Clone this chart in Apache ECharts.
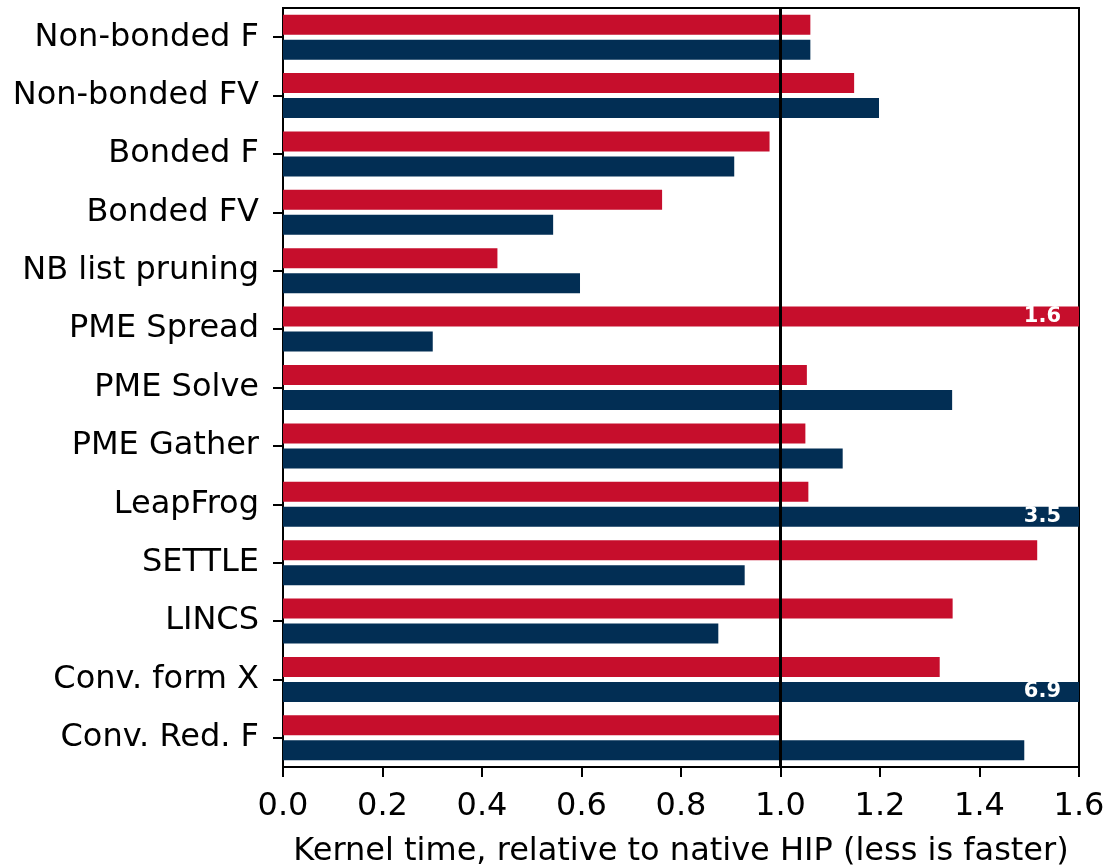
<!DOCTYPE html>
<html>
<head>
<meta charset="utf-8">
<script src="https://cdn.jsdelivr.net/npm/echarts@6/dist/echarts.min.js"></script>
<style>
  html, body { margin: 0; padding: 0; background: #ffffff; }
  #chart { width: 1107px; height: 867px; }
</style>
</head>
<body>
<div id="chart"></div>
<script>
// Kernel names, top to bottom
const kernels = [
  'Non-bonded F', 'Non-bonded FV', 'Bonded F', 'Bonded FV', 'NB list pruning',
  'PME Spread', 'PME Solve', 'PME Gather', 'LeapFrog', 'SETTLE', 'LINCS',
  'Conv. form X', 'Conv. Red. F'
];

// Relative kernel time for each backend (1.0 = native HIP)
const redSeries = [1.06, 1.148, 0.978, 0.762, 0.431, 1.6, 1.053, 1.05, 1.056, 1.516, 1.346, 1.32, 1.0];
const blueSeries = [1.06, 1.198, 0.907, 0.543, 0.597, 0.301, 1.345, 1.125, 3.5, 0.928, 0.875, 6.9, 1.49];

const xTicks = [0.0, 0.2, 0.4, 0.6, 0.8, 1.0, 1.2, 1.4, 1.6];
const xMin = xTicks[0];
const xMax = xTicks[xTicks.length - 1];
const xStep = 0.2;
const referenceLine = 1.0;

const FONT = 'DejaVu Sans';
const FONT_SIZE = 32;

// Bars that run past the axis end get their value written inside
const overflowLabel = {
  show: true,
  position: 'insideRight',
  distance: 18,
  color: '#ffffff',
  fontFamily: FONT,
  fontWeight: 'bold',
  fontSize: 21,
  formatter: p => (p.value >= xMax ? String(p.value) : '')
};

const chart = echarts.init(document.getElementById('chart'), null, { renderer: 'canvas' });

chart.setOption({
  backgroundColor: '#ffffff',
  animation: false,
  grid: {
    left: 283, right: 28, top: 8, bottom: 100,
    containLabel: false,
    outerBoundsMode: 'none',
    show: true, borderColor: '#000000', borderWidth: 2, backgroundColor: 'transparent'
  },
  xAxis: {
    type: 'value',
    min: xMin, max: xMax, interval: xStep,
    name: 'Kernel time, relative to native HIP (less is faster)',
    nameLocation: 'middle',
    nameGap: 69,
    nameTextStyle: { fontFamily: FONT, fontSize: FONT_SIZE, color: '#000000' },
    axisLine: { show: true, lineStyle: { color: '#000000', width: 2 } },
    axisTick: { show: true, inside: false, length: 10, lineStyle: { color: '#000000', width: 2 } },
    axisLabel: {
      fontFamily: FONT, fontSize: FONT_SIZE, color: '#000000', margin: 24,
      formatter: v => v.toFixed(1)
    },
    splitLine: { show: false }
  },
  yAxis: {
    type: 'category',
    data: kernels,
    inverse: true,
    axisLine: { show: true, lineStyle: { color: '#000000', width: 2 } },
    axisTick: { show: true, alignWithLabel: true, length: 10, lineStyle: { color: '#000000', width: 2 } },
    axisLabel: { fontFamily: FONT, fontSize: FONT_SIZE, color: '#000000', margin: 24, padding: [9, 0, 0, 0] },
    splitLine: { show: false }
  },
  series: [
    {
      type: 'bar',
      data: redSeries,
      barWidth: 20,
      barGap: '25%',
      itemStyle: { color: '#C60E2C' },
      label: overflowLabel,
      markLine: {
        silent: true,
        symbol: ['none', 'none'],
        label: { show: false },
        lineStyle: { color: '#000000', width: 3, type: 'solid' },
        data: [{ xAxis: referenceLine }],
        z: 10
      }
    },
    {
      type: 'bar',
      data: blueSeries,
      barWidth: 20,
      barGap: '25%',
      itemStyle: { color: '#022E54' },
      label: overflowLabel
    }
  ]
});
</script>
</body>
</html>
